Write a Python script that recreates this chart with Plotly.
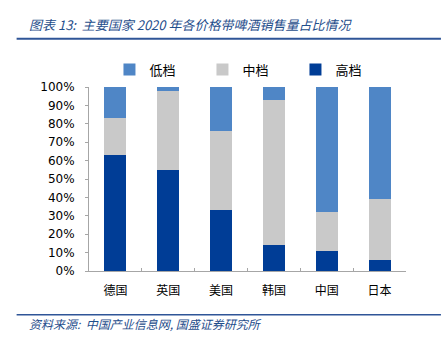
import plotly.graph_objects as go

categories = ["德国", "英国", "美国", "韩国", "中国", "日本"]
high = [63, 55, 33, 14, 11, 6]
mid = [20, 43, 43, 79, 21, 33]
low = [17, 2, 24, 7, 68, 61]
y_ticks = [0, 10, 20, 30, 40, 50, 60, 70, 80, 90, 100]
y_tick_labels = [f"{v}%" for v in y_ticks]

W, H = 441, 343
L, R, T, B = 88.5, 35, 86.5, 71.5
PW, PH = W - L - R, H - T - B


def px(x):
    return (x - L) / PW


def py(y):
    return (H - B - y) / PH


fig = go.Figure()
fig.add_trace(go.Bar(x=categories, y=high, name="高档", marker=dict(color="#003D96", line=dict(width=0))))
fig.add_trace(go.Bar(x=categories, y=mid, name="中档", marker=dict(color="#C9C9C9", line=dict(width=0))))
fig.add_trace(go.Bar(x=categories, y=low, name="低档", marker=dict(color="#4F86C6", line=dict(width=0))))

fig.update_layout(
    width=W, height=H,
    margin=dict(l=L, r=R, t=T, b=B, autoexpand=False),
    barmode="stack",
    bargap=0.585,
    plot_bgcolor="white", paper_bgcolor="white",
    font=dict(family="Noto Sans CJK SC", size=12, color="#000000"),
    showlegend=True,
    legend=dict(orientation="h", traceorder="reversed", x=px(109), y=py(69), xanchor="left", yanchor="middle",
                font=dict(size=13, family="Noto Sans CJK SC"), itemwidth=30, entrywidth=48, itemsizing="constant",
                bgcolor="rgba(0,0,0,0)"),
    xaxis=dict(showline=True, linecolor="#A6A6A6", linewidth=1, ticks="inside", ticklen=3, tickcolor="#A6A6A6",
               tickson="boundaries", tickfont=dict(size=12, family="Noto Sans CJK SC"), fixedrange=True,
               ticklabelstandoff=9),
    yaxis=dict(range=[0, 100], tickvals=y_ticks, ticktext=y_tick_labels, showline=True, linecolor="#A6A6A6",
               linewidth=1, ticks="outside", ticklen=3, tickcolor="#A6A6A6", showgrid=False, zeroline=False,
               tickfont=dict(size=12, family="DejaVu Sans"), ticklabelstandoff=8),
)

fig.add_annotation(text="图表 13:  主要国家 2020 年各价格带啤酒销售量占比情况", xref="paper", yref="paper",
                   x=px(26), y=py(24), xanchor="left", yanchor="middle", showarrow=False,
                   font=dict(size=13, color="#1F4E8C", family="Noto Sans CJK SC", style="italic"))
fig.add_shape(type="line", xref="paper", yref="paper", x0=px(16), x1=px(441), y0=py(38), y1=py(38),
              line=dict(color="#2F5597", width=2))
fig.add_shape(type="line", xref="paper", yref="paper", x0=px(16), x1=px(441), y0=py(315.5), y1=py(315.5),
              line=dict(color="#2F5597", width=1.5))
fig.add_annotation(text="资料来源:  中国产业信息网, 国盛证券研究所", xref="paper", yref="paper",
                   x=px(26), y=py(324), xanchor="left", yanchor="middle", showarrow=False,
                   font=dict(size=12, color="#1F4E8C", family="Noto Sans CJK SC", style="italic"))

fig.write_html("out.html")
